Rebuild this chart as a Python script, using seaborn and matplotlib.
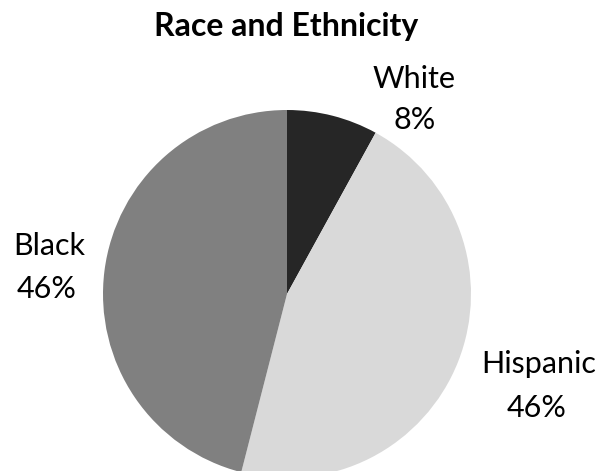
import matplotlib
matplotlib.use("Agg")
import matplotlib.pyplot as plt
import seaborn as sns

# Race and ethnicity shares
groups = ["White", "Hispanic", "Black"]
shares = [8, 46, 46]
colors = ["#262626", "#d9d9d9", "#808080"]

sns.set_theme(style="white")
plt.rcParams["font.family"] = ["Lato", "DejaVu Sans"]

W, H = 602, 471
fig = plt.figure(figsize=(W / 100, H / 100), dpi=100)
fig.patch.set_facecolor("white")

# Pie centre and radius in pixels
cx, cy, r = 287, 294, 184
ax = fig.add_axes([(cx - r) / W, (H - cy - r) / H, 2 * r / W, 2 * r / H])
ax.pie(shares, colors=colors, startangle=90, counterclock=False,
       wedgeprops=dict(linewidth=0, antialiased=True))
ax.set_xlim(-1, 1)
ax.set_ylim(-1, 1)
ax.set_aspect("equal")
ax.axis("off")

def px_text(x, y, s, **kw):
    fig.text(x / W, 1 - y / H, s, ha="center", va="baseline", **kw)

px_text(286, 36, "Race and Ethnicity", fontsize=23, fontweight="bold", color="black")

# Label baselines (name line, value line) for each slice
label_pos = {
    "White": ((414, 88), (415, 129)),
    "Hispanic": ((539, 373), (537, 417)),
    "Black": ((49, 255), (47, 298)),
}
for g, v in zip(groups, shares):
    (nx, ny), (vx, vy) = label_pos[g]
    px_text(nx, ny, g, fontsize=22, color="black")
    px_text(vx, vy, f"{v}%", fontsize=22, color="black")

fig.savefig("out.png", dpi=100, facecolor="white")
